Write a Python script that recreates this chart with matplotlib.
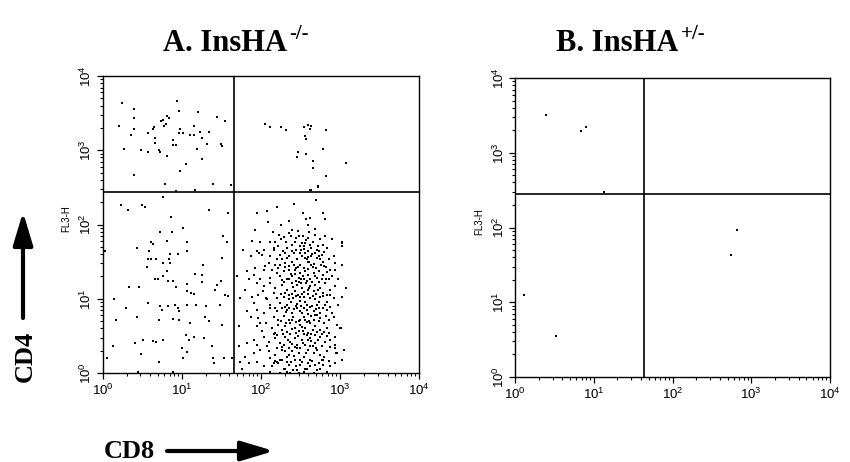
import numpy as np
import matplotlib
matplotlib.use("Agg")
import matplotlib.pyplot as plt
from matplotlib.patches import FancyArrowPatch
from matplotlib.ticker import LogLocator, LogFormatterMathtext, NullFormatter

plt.rcParams['font.family'] = ['Liberation Sans', 'DejaVu Sans']
plt.rcParams['mathtext.fontset'] = 'custom'
plt.rcParams['mathtext.rm'] = 'Liberation Sans'
plt.rcParams['mathtext.it'] = 'Liberation Sans:italic'
plt.rcParams['mathtext.bf'] = 'Liberation Sans:bold'

# ---------------- data (log10 fluorescence: CD8 = x, CD4 = y) ----------------
titles = ["A. InsHA", "B. InsHA"]
title_sups = ["-/-", "+/-"]
tick_decades = [0, 1, 2, 3, 4]
gate_a = (1.66, 2.44)   # (CD8 gate, CD4 gate), log10
gate_b = (1.64, 2.45)

# Panel A, upper-left quadrant (CD4+ CD8-)
a_ul = [(0.25,3.64),(0.40,3.55),(0.40,3.43),(0.21,3.33),(0.40,3.29),(0.36,3.21),(0.65,3.31),
        (0.64,3.29),(0.57,3.23),(0.66,3.16),(0.66,3.10),(0.74,3.39),(0.76,3.41),(0.81,3.46),
        (0.84,3.43),(0.78,3.33),(0.80,3.35),(0.94,3.66),(0.96,3.53),(0.98,3.28),(0.97,3.23),
        (1.02,3.23),(0.89,3.14),(0.89,3.07),(0.93,3.07),(0.27,3.02),(0.49,3.01),(0.57,2.98),
        (0.71,3.01),(0.73,2.98),(0.81,2.92),(1.15,3.33),(1.11,3.20),(1.15,3.20),(1.21,3.51),
        (1.23,3.25),(1.25,3.16),(1.34,3.25),(1.32,3.08),(1.45,3.45),(1.55,3.39),(1.49,3.08),
        (1.51,3.06),(1.19,3.02),(1.25,2.88),(1.05,2.81),(0.98,2.72),(0.40,2.66),(0.79,2.55),
        (0.93,2.45),(1.17,2.47),(1.40,2.55),(1.62,2.53)]

# Panel A, upper-right quadrant (CD4+ CD8+)
a_ur = [(2.05,3.35),(2.12,3.31),(2.25,3.31),(2.32,3.27),(2.55,3.31),(2.60,3.34),(2.63,3.33),
        (2.62,3.28),(2.56,3.19),(2.57,3.15),(2.82,3.27),(2.47,2.97),(2.46,2.91),(2.57,2.95),
        (2.78,3.02),(2.66,2.86),(2.66,2.76),(2.83,2.65),(3.08,2.83),(2.63,2.47),(2.72,2.51),
        (2.72,2.52),(2.62,2.46)]

# Panel A, lower-left quadrant (double negative)
a_ll = [(0.76,2.37),(0.23,2.26),(0.32,2.20),(0.50,2.26),(0.54,2.23),(1.34,2.20),(1.58,2.15),
        (0.87,2.10),(0.73,1.90),(0.88,1.90),(1.02,1.95),(0.61,1.76),(0.63,1.74),(0.43,1.68),
        (0.59,1.64),(0.81,1.78),(1.06,1.77),(0.85,1.60),(0.84,1.54),(0.95,1.60),(1.06,1.64),
        (0.57,1.53),(0.61,1.54),(0.67,1.54),(0.56,1.43),(0.76,1.48),(0.81,1.38),(1.27,1.46),
        (0.85,1.48),(1.52,1.84),(1.57,1.76),(1.51,1.55),(0.03,1.64),(0.76,1.30),(0.66,1.27),
        (0.70,1.26),(0.82,1.24),(0.89,1.24),(1.07,1.20),(1.17,1.34),(1.26,1.32),(1.26,1.23),
        (0.93,1.16),(1.06,1.11),(1.12,1.08),(1.16,1.06),(1.45,1.18),(1.49,1.24),(0.33,1.16),
        (0.46,1.16),(1.42,1.12),(1.55,1.05),(1.59,1.04),(0.14,0.99),(0.29,0.87),(0.57,0.94),
        (0.72,0.90),(0.75,0.85),(0.83,0.90),(0.92,0.92),(0.95,0.87),(1.06,0.91),(0.96,0.84),
        (1.18,0.91),(1.31,0.90),(1.48,0.91),(0.17,0.71),(0.44,0.76),(0.71,0.71),(0.89,0.73),
        (0.97,0.72),(1.11,0.68),(1.29,0.76),(1.35,0.70),(1.51,0.64),(0.13,0.36),(0.41,0.40),
        (0.51,0.45),(0.63,0.43),(0.67,0.42),(0.76,0.44),(1.05,0.51),(1.09,0.45),(1.16,0.48),
        (1.28,0.47),(1.38,0.36),(0.49,0.26),(1.00,0.33),(1.07,0.28),(1.02,0.20),(0.06,0.20),
        (0.71,0.15),(1.40,0.20),(1.53,0.20),(1.63,0.20),(1.41,0.13),(0.45,0.02),(0.89,0.02)]

# Panel A, lower-right quadrant (CD8+ CD4-)
a_lr = [(2.70,2.33),(2.42,2.27),(2.21,2.23),(1.95,2.16),(2.53,2.16),(2.78,2.16),(2.08,2.18),
        (2.35,2.05),(2.57,2.08),(2.62,2.09),(2.09,2.03),(2.26,2.00),(2.59,1.99),(1.93,1.92),
        (2.69,1.94),(2.81,2.08),(2.15,1.90),(2.40,1.93),(2.48,1.85),(2.53,1.85),(2.61,1.90),
        (1.89,1.78),(2.29,1.83),(2.43,1.77),(2.56,1.75),(2.62,1.73),(2.75,1.80),(2.90,1.80),
        (2.12,1.77),(2.18,1.76),(3.02,1.75),(2.38,1.84),(1.77,1.66),(1.95,1.64),(2.04,1.66),
        (2.16,1.66),(2.22,1.71),(2.33,1.68),(2.39,1.64),(2.45,1.66),(2.54,1.67),(2.60,1.64),
        (2.71,1.66),(2.74,1.64),(2.77,1.59),(2.84,1.68),(2.93,1.58),(1.98,1.61),(2.28,1.64),
        (2.50,1.71),(2.01,1.59),(2.12,1.57),(2.20,1.53),(2.27,1.53),(2.33,1.55),(2.39,1.50),
        (2.46,1.53),(2.52,1.57),(2.58,1.53),(2.64,1.57),(2.71,1.55),(2.79,1.50),(2.86,1.53),
        (2.94,1.48),(2.18,1.46),(2.24,1.45),(2.31,1.48),(2.42,1.46),(2.50,1.45),(2.56,1.55),
        (2.59,1.56),(2.68,1.61),(2.73,1.58),(2.75,1.54),(3.02,1.46),(2.05,1.44),(1.82,1.37),
        (1.91,1.32),(2.04,1.39),(2.14,1.39),(2.20,1.35),(2.29,1.37),(2.35,1.39),(2.43,1.39),
        (2.50,1.35),(2.56,1.37),(2.60,1.32),(2.67,1.35),(2.73,1.38),(2.79,1.32),(2.84,1.36),
        (2.90,1.30),(2.39,1.30),(2.48,1.28),(2.54,1.27),(2.62,1.26),(2.71,1.28),(2.12,1.28),
        (2.24,1.30),(2.33,1.26),(1.99,1.27),(2.94,1.39),(1.70,1.30),(1.85,1.26),(1.95,1.21),
        (2.04,1.17),(2.12,1.21),(2.18,1.14),(2.27,1.19),(2.33,1.12),(2.39,1.21),(2.46,1.18),
        (2.52,1.14),(2.57,1.21),(2.62,1.17),(2.69,1.19),(2.75,1.14),(2.81,1.21),(2.88,1.12),
        (2.94,1.17),(1.80,1.12),(2.16,1.08),(2.31,1.08),(2.43,1.10),(2.54,1.09),(2.67,1.10),
        (2.79,1.08),(3.08,1.14),(2.48,1.22),(1.74,1.01),(1.89,1.03),(1.97,1.05),(2.08,0.99),
        (2.20,1.01),(2.29,1.03),(2.35,0.99),(2.41,1.01),(2.50,1.03),(2.56,0.96),(2.62,1.01),
        (2.69,0.99),(2.75,1.03),(2.84,0.96),(1.91,0.94),(2.12,0.92),(2.24,0.94),(2.33,0.92),
        (2.46,0.93),(2.58,0.92),(2.71,0.91),(2.81,0.91),(2.98,0.92),(2.92,1.01),(1.82,0.83),
        (1.95,0.85),(2.04,0.81),(2.12,0.87),(2.20,0.83),(2.27,0.87),(2.33,0.85),(2.39,0.81),
        (2.46,0.87),(2.52,0.81),(2.58,0.85),(2.67,0.83),(2.75,0.81),(2.84,0.85),(2.90,0.81),
        (2.16,0.76),(2.29,0.77),(2.41,0.75),(2.54,0.76),(2.64,0.77),(2.75,0.74),(1.87,0.75),
        (1.97,0.74),(1.72,0.63),(1.95,0.63),(2.06,0.67),(2.14,0.60),(2.22,0.65),(2.31,0.63),
        (2.37,0.67),(2.43,0.60),(2.50,0.65),(2.56,0.60),(2.62,0.67),(2.69,0.63),(2.75,0.58),
        (2.84,0.60),(2.96,0.65),(2.01,0.56),(2.18,0.54),(2.33,0.55),(2.48,0.56),(2.60,0.54),
        (2.71,0.55),(2.86,0.54),(3.00,0.60),(2.50,0.72),(2.58,0.69),(1.82,0.40),(1.91,0.45),
        (2.04,0.49),(2.10,0.42),(2.18,0.47),(2.24,0.40),(2.31,0.49),(2.37,0.42),(2.43,0.47),
        (2.52,0.45),(2.56,0.38),(2.62,0.47),(2.69,0.40),(2.75,0.49),(2.81,0.42),(2.88,0.45),
        (2.29,0.38),(2.46,0.38),(1.95,0.38),(2.94,0.38),(2.58,0.51),(1.72,0.36),(1.91,0.27),
        (1.99,0.31),(2.10,0.29),(2.18,0.24),(2.27,0.31),(2.33,0.22),(2.39,0.29),(2.48,0.27),
        (2.54,0.22),(2.60,0.31),(2.67,0.27),(2.75,0.24),(2.84,0.29),(2.96,0.27),(1.80,0.22),
        (2.12,0.20),(2.24,0.18),(2.50,0.18),(2.62,0.18),(2.79,0.18),(2.46,0.33),(2.94,0.33),
        (1.74,0.15),(1.85,0.13),(1.95,0.15),(2.04,0.09),(2.14,0.09),(2.22,0.13),(2.29,0.06),
        (2.35,0.11),(2.41,0.04),(2.50,0.11),(2.56,0.06),(2.62,0.09),(2.71,0.04),(2.79,0.11),
        (1.76,0.06),(2.12,0.02),(2.33,0.02),(2.54,0.02),(2.67,0.00),(2.84,0.02),(2.24,0.00),
        (2.48,0.00),
        (2.23,1.86),(2.35,1.89),(2.47,1.91),(2.59,1.82),(2.69,1.86),(2.72,1.71),(2.52,1.75),
        (2.40,1.73),(2.32,1.76),(2.63,1.68),(2.78,1.73),(2.24,1.59),(2.36,1.58),(2.49,1.61),
        (2.61,1.49),(2.67,1.47),(2.76,1.45),(2.83,1.43),(2.31,1.43),(2.45,1.41),(2.38,1.34),
        (2.53,1.31),(2.59,1.40),(2.66,1.43),(2.77,1.27),(2.86,1.26),(2.29,1.23),(2.41,1.16),
        (2.51,1.21),(2.59,1.12),(2.72,1.12),(2.84,1.05),(2.35,1.05),(2.47,1.05),(2.55,1.02),
        (2.66,1.04),(2.74,0.96),(2.38,0.95),(2.51,0.90),(2.62,0.89),(2.70,0.86),(2.78,0.87),
        (2.32,0.82),(2.42,0.86),(2.49,0.84),(2.59,0.80),(2.71,0.78),(2.83,0.77),(2.22,0.72),
        (2.35,0.71),(2.45,0.69),(2.67,0.71),(2.80,0.68),(2.27,0.58),(2.40,0.59),(2.53,0.57),
        (2.66,0.58),(2.77,0.53),(2.21,0.51),(2.34,0.45),(2.47,0.50),(2.59,0.44),(2.72,0.45),
        (2.84,0.50),(2.40,0.39),(2.53,0.41),(2.66,0.36),(2.77,0.36),(2.31,0.29),(2.42,0.23),
        (2.57,0.27),(2.71,0.31),(2.80,0.22),(2.21,0.15),(2.38,0.15),(2.59,0.14),(2.74,0.14),
        (2.45,0.09),(2.69,0.11),(2.94,0.13),(2.37,0.00),(2.16,0.14),(2.08,0.36),(1.99,0.67),
        (2.06,1.01),(2.03,1.10),(1.93,1.41),(1.87,1.57),(2.10,1.48),(2.16,1.68),(1.99,1.77),
        (2.88,1.39),(2.98,1.26),(3.03,1.03),(2.92,0.76),(2.94,0.49),(3.05,0.31),(3.03,0.18),
        (2.88,0.09),(3.01,0.61),(3.02,1.76),(3.02,1.71),(2.98,0.92),(2.95,0.27),
        (2.26,1.80),(2.44,1.82),(2.57,1.79),(2.66,1.77),(2.81,1.84),
        (2.30,1.62),(2.42,1.61),(2.56,1.62),(2.65,1.60),(2.80,1.63),(2.51,1.65),
        (2.22,1.42),(2.35,1.44),(2.47,1.43),(2.55,1.41),(2.70,1.42),(2.80,1.44),(2.63,1.46),
        (2.27,1.25),(2.44,1.24),(2.51,1.26),(2.58,1.24),(2.65,1.22),(2.74,1.23),(2.82,1.26),
        (2.36,1.27),(2.26,1.06),(2.39,1.07),(2.45,1.04),(2.52,1.06),(2.60,1.07),(2.70,1.06),
        (2.78,1.04),(2.88,1.05),(2.18,0.88),(2.30,0.89),(2.36,0.88),(2.44,0.90),(2.55,0.88),
        (2.65,0.90),(2.74,0.88),(2.87,0.89),(2.26,0.70),(2.32,0.68),(2.39,0.72),(2.48,0.70),
        (2.56,0.72),(2.61,0.70),(2.73,0.70),(2.86,0.72),(2.16,0.52),(2.28,0.53),(2.37,0.52),
        (2.44,0.54),(2.55,0.52),(2.64,0.53),(2.69,0.51),(2.80,0.55),(2.20,0.34),(2.27,0.35),
        (2.36,0.33),(2.43,0.35),(2.50,0.34),(2.62,0.36),(2.70,0.34),(2.87,0.35),(2.18,0.16),
        (2.27,0.17),(2.33,0.15),(2.43,0.17),(2.52,0.15),(2.65,0.16),(2.77,0.17),(2.86,0.16),
        (2.30,0.06),(2.46,0.04),(2.58,0.05),(2.75,0.06),(2.55,1.71),(2.60,1.50),(2.68,1.31),
        (2.43,1.33),(2.61,1.14),(2.49,0.97),(2.68,0.78),(2.52,0.62),(2.63,0.43),(2.35,0.24)]

# Panel B events
b_pts = [(0.39,3.51),(0.84,3.29),(0.90,3.34),(1.13,2.47),(2.82,1.97),(2.74,1.63),
         (0.11,1.10),(0.52,0.55)]

W, H = 850, 462
fig = plt.figure(figsize=(W / 100, H / 100), dpi=100)

def px_ax(l, r, t, b):
    return [l / W, 1 - b / H, (r - l) / W, (b - t) / H]

ax_a = fig.add_axes(px_ax(102.7, 419, 76, 373))
ax_b = fig.add_axes(px_ax(515, 830, 78, 377))

def style(ax):
    ax.set_xscale('log')
    ax.set_yscale('log')
    ax.set_xlim(10 ** tick_decades[0], 10 ** tick_decades[-1])
    ax.set_ylim(10 ** tick_decades[0], 10 ** tick_decades[-1])
    for ax_ in (ax.xaxis, ax.yaxis):
        ax_.set_major_locator(LogLocator(base=10, numticks=10))
        ax_.set_minor_locator(LogLocator(base=10, subs=np.arange(2, 10), numticks=10))
        ax_.set_major_formatter(LogFormatterMathtext())
        ax_.set_minor_formatter(NullFormatter())
    ax.tick_params(which='major', direction='out', length=4, width=0.9, labelsize=9.5,
                   colors='black')
    ax.tick_params(which='minor', direction='out', length=2.5, width=0.8)
    ax.tick_params(axis='y', labelrotation=90, pad=2)
    ax.tick_params(axis='x', pad=3)
    for lab in ax.get_yticklabels():
        lab.set_va('center')
    for s in ax.spines.values():
        s.set_linewidth(1.0)
        s.set_color('black')

def plot_panel(ax, groups, gate, size):
    for pts in groups:
        arr = np.array(pts)
        ax.scatter(10 ** arr[:, 0], 10 ** arr[:, 1], s=size, marker='s', c='black',
                   linewidths=0, clip_on=True)
    ax.axvline(10 ** gate[0], color='black', lw=1.2)
    ax.axhline(10 ** gate[1], color='black', lw=1.2)
    style(ax)

plot_panel(ax_a, [a_ul, a_ur, a_ll, a_lr], gate_a, 2.0)
plot_panel(ax_b, [b_pts], gate_b, 1.4)

for ax in (ax_a, ax_b):
    ax.text(-0.115, 0.52, 'FL3-H', transform=ax.transAxes, rotation=90, fontsize=7,
            ha='center', va='center')

# panel titles: main text plus a small raised "-/-" or "+/-"
renderer = fig.canvas.get_renderer()
title_left = [163, 556]
for t, sup, x in zip(titles, title_sups, title_left):
    main = fig.text(x / W, 1 - 51 / H, t, ha='left', va='baseline',
                    fontsize=22, fontweight='bold', family='Liberation Serif')
    bb = main.get_window_extent(renderer=renderer)
    fig.text((bb.x1 + 2) / W, 1 - 39 / H, sup, ha='left', va='baseline',
             fontsize=15, fontweight='bold', family='Liberation Serif')

# axis name labels with arrows
fig.text(25 / W, 1 - 356 / H, 'CD4', rotation=90, ha='center', va='center',
         fontsize=19, fontweight='bold', family='Liberation Serif')
fig.text(129 / W, 1 - 451 / H, 'CD8', ha='center', va='center',
         fontsize=19, fontweight='bold', family='Liberation Serif')
arrow_kw = dict(arrowstyle='-|>,head_length=2.0,head_width=0.6', color='black', lw=3.0,
                shrinkA=0, shrinkB=0, mutation_scale=10)
fig.add_artist(FancyArrowPatch((23 / W, 1 - 318 / H), (23 / W, 1 - 212 / H),
                               transform=fig.transFigure, **arrow_kw))
fig.add_artist(FancyArrowPatch((167 / W, 1 - 451 / H), (274 / W, 1 - 451 / H),
                               transform=fig.transFigure, **arrow_kw))

fig.savefig('out.png', dpi=100)
